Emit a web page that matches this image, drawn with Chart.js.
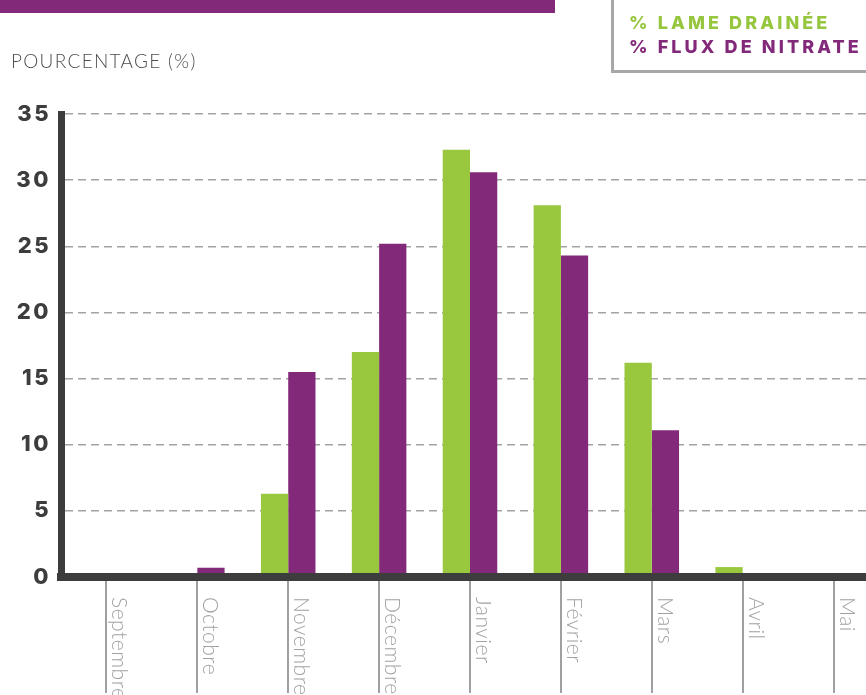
<!DOCTYPE html>
<html>
<head>
<meta charset="utf-8">
<script src="https://cdn.jsdelivr.net/npm/chart.js@4.4.0/dist/chart.umd.min.js"></script>
<style>
    html, body { margin: 0; padding: 0; background: #fff; overflow: hidden; }
    #wrap { position: relative; width: 866px; height: 695px; overflow: hidden; }
    #chartBox { position: absolute; left: 0; top: 0; width: 880px; height: 695px; }
    .topBar { position: absolute; left: 0; top: 0; width: 555px; height: 13px; background: #83297a; }
    .legendBox { position: absolute; left: 611px; top: -3px; width: 300px; height: 76px; box-sizing: border-box; border: 3px solid #a7a7a9; }
    .legendLine { position: absolute; left: 629px; font-family: Inter; font-weight: 800; font-size: 18px; line-height: 24px; letter-spacing: 3.1px; white-space: nowrap; }
    .yTitle { position: absolute; left: 11px; top: 49px; font-family: Lato; font-weight: 300; font-size: 19px; line-height: 24px; letter-spacing: 1.3px; color: #4d4d4f; white-space: nowrap; }
</style>
</head>
<body>
<div id="wrap">
    <div id="chartBox"><canvas id="chart" width="880" height="695"></canvas></div>
    <div class="topBar"></div>
    <div class="yTitle">POURCENTAGE (%)</div>
    <div class="legendBox"></div>
    <div class="legendLine" style="top:11px; color:#96c63e;">% LAME DRAINÉE</div>
    <div class="legendLine" style="top:35px; color:#83297a;">% FLUX DE NITRATE</div>
</div>
<script>
// Data
const months = ["Septembre", "Octobre", "Novembre", "Décembre", "Janvier", "Février", "Mars", "Avril", "Mai"];
const lameDrainee = [0, 0, 6.3, 17.0, 32.3, 28.1, 16.2, 0.75, 0];
const fluxNitrate = [0, 0.7, 15.5, 25.2, 30.6, 24.3, 11.1, 0, 0];
const yMin = 0;
const yMax = 35;
const yStep = 5;

const GREEN = "#99c73e";
const PURPLE = "#83297a";
const AXIS = "#3d3d3d";

// month names, rotated to read top-to-bottom, right of each tick line
const monthLabels = {
    id: "monthLabels",
    beforeDraw(chart) {
        chart.ctx.letterSpacing = "2.5px";   // wide y tick digits
    },
    beforeDatasetsDraw(chart) {
        chart.ctx.letterSpacing = "0px";
    },
    afterDraw(chart) {
        const ctx = chart.ctx;
        const xs = chart.scales.x;
        ctx.save();
        ctx.font = "300 21px Lato";
        ctx.fillStyle = "#a2a2a4";
        ctx.letterSpacing = "0.5px";
        ctx.textAlign = "left";
        ctx.textBaseline = "alphabetic";
        months.forEach((m, i) => {
            const x = xs.getPixelForTick(i);
            ctx.save();
            ctx.translate(x + 6, 597);
            ctx.rotate(Math.PI / 2);
            ctx.fillText(m, 0, 0);
            ctx.restore();
        });
        ctx.restore();
    }
};

new Chart(document.getElementById("chart"), {
    type: "bar",
    data: {
        labels: months,
        datasets: [
            { label: "% Lame drainée", data: lameDrainee, backgroundColor: GREEN, borderWidth: 0 },
            { label: "% Flux de nitrate", data: fluxNitrate, backgroundColor: PURPLE, borderWidth: 0 }
        ]
    },
    options: {
        responsive: false,
        animation: false,
        devicePixelRatio: 1,
        layout: { padding: { top: 114, bottom: 2, left: 0, right: 1 } },
        datasets: {
            bar: { categoryPercentage: 0.6, barPercentage: 1.0 }
        },
        scales: {
            x: {
                ticks: { display: false },
                grid: {
                    display: true,
                    drawOnChartArea: false,
                    drawTicks: true,
                    tickLength: 116,
                    offset: false,
                    color: "#a0a0a2",
                    lineWidth: 2
                },
                border: { display: true, color: AXIS, width: 8, z: 1 }
            },
            y: {
                min: yMin,
                max: yMax,
                afterFit(scale) { scale.width = 61; },
                ticks: {
                    stepSize: yStep,
                    padding: 10,
                    color: AXIS,
                    font: { family: "Inter", weight: 800, size: 22 }
                },
                grid: {
                    drawTicks: false,
                    color: "#a3a3a3",
                    lineWidth: 1.5
                },
                border: { display: true, color: AXIS, width: 7, dash: [8, 5], z: 1 }
            }
        },
        plugins: {
            legend: { display: false },
            tooltip: { enabled: false }
        }
    },
    plugins: [monthLabels]
});
</script>
</body>
</html>
